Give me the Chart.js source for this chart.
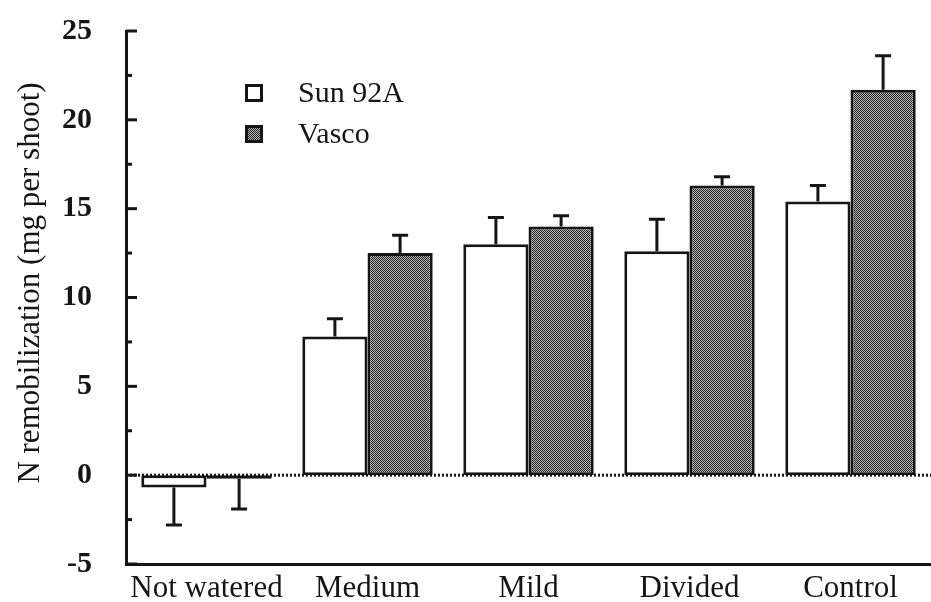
<!DOCTYPE html>
<html>
<head>
<meta charset="utf-8">
<title>N remobilization</title>
<script src="https://cdn.jsdelivr.net/npm/chart.js@4.4.1/dist/chart.umd.min.js"></script>
<style>
  html, body { margin: 0; padding: 0; background: #fff; overflow: hidden; }
  #wrap { position: relative; width: 931px; height: 602px; }
</style>
</head>
<body>
<div id="wrap"><canvas id="chart"></canvas></div>
<script>
// treatments and the two cultivars (mean + error)
const treatments = ['Not watered', 'Medium', 'Mild', 'Divided', 'Control'];
const sunValues = [-0.7, 7.8, 13.0, 12.6, 15.4];
const sunErrors = [2.1, 1.0, 1.5, 1.8, 0.9];
const vascoValues = [-0.2, 12.5, 14.0, 16.3, 21.7];
const vascoErrors = [1.7, 1.0, 0.6, 0.5, 1.9];
const yTicks = [-5, 0, 5, 10, 15, 20, 25];

const SERIF = '"Liberation Serif", "Times New Roman", serif';
const INK = '#151515';

// fine grey stipple for the Vasco bars
function stipple() {
    const c = document.createElement('canvas');
    c.width = 2; c.height = 2;
    const g = c.getContext('2d');
    g.fillStyle = '#bdbdbd';
    g.fillRect(0, 0, 2, 2);
    g.fillStyle = '#1c1c1c';
    g.fillRect(0, 0, 1, 1);
    g.fillRect(1, 1, 1, 1);
    return g.createPattern(c, 'repeat');
}

// dotted baseline at zero, under the bars
const zeroLine = {
    id: 'zeroLine',
    beforeDatasetsDraw(chart) {
        const { ctx, chartArea, scales: { y } } = chart;
        const py = y.getPixelForValue(0);
        ctx.save();
        ctx.strokeStyle = INK;
        ctx.lineWidth = 3;
        ctx.setLineDash([2, 2]);
        ctx.beginPath();
        ctx.moveTo(chartArea.left, py);
        ctx.lineTo(chartArea.right, py);
        ctx.stroke();
        ctx.restore();
    }
};

// one-sided error bars (up for positive means, down for negative)
const errorBars = {
    id: 'errorBars',
    afterDatasetsDraw(chart) {
        const { ctx, scales: { y } } = chart;
        ctx.save();
        ctx.strokeStyle = INK;
        ctx.lineWidth = 3;
        chart.data.datasets.forEach((ds, i) => {
            chart.getDatasetMeta(i).data.forEach((bar, j) => {
                const v = ds.data[j];
                const e = ds.errors[j];
                const end = y.getPixelForValue(v < 0 ? v - e : v + e);
                ctx.beginPath();
                ctx.moveTo(bar.x, bar.y);
                ctx.lineTo(bar.x, end);
                ctx.moveTo(bar.x - 8, end);
                ctx.lineTo(bar.x + 8, end);
                ctx.stroke();
            });
        });
        ctx.restore();
    }
};

// tick marks pointing into the plot, minor ones halfway
const innerTicks = {
    id: 'innerTicks',
    afterDraw(chart) {
        const { ctx, chartArea, scales: { y } } = chart;
        const step = yTicks[1] - yTicks[0];
        ctx.save();
        ctx.strokeStyle = INK;
        ctx.lineWidth = 3;
        for (let v = y.min; v <= y.max; v += step / 2) {
            const py = y.getPixelForValue(v);
            const len = (v % step === 0) ? 11 : 6;
            ctx.beginPath();
            ctx.moveTo(chartArea.left, py);
            ctx.lineTo(chartArea.left + len, py);
            ctx.stroke();
        }
        ctx.restore();
    }
};

// axis title and the little legend inside the plot
const labels = {
    id: 'labels',
    afterDraw(chart) {
        const { ctx } = chart;
        ctx.save();
        ctx.fillStyle = INK;
        ctx.font = '31px ' + SERIF;
        ctx.textAlign = 'center';
        ctx.textBaseline = 'middle';
        ctx.translate(31, 283);
        ctx.rotate(-Math.PI / 2);
        ctx.fillText('N remobilization (mg per shoot)', 0, 0);
        ctx.restore();

        ctx.save();
        ctx.font = '30px ' + SERIF;
        ctx.textBaseline = 'alphabetic';
        chart.data.datasets.forEach((ds, i) => {
            const top = 84 + i * 41;
            ctx.fillStyle = ds.backgroundColor;
            ctx.fillRect(245, top, 18, 18);
            ctx.strokeStyle = INK;
            ctx.lineWidth = 3;
            ctx.strokeRect(246.5, top + 1.5, 15, 15);
            ctx.fillStyle = INK;
            ctx.fillText(ds.label, 298, top + 18);
        });
        ctx.restore();
    }
};

new Chart(document.getElementById('chart'), {
    type: 'bar',
    data: {
        labels: treatments,
        datasets: [
            {
                label: 'Sun 92A',
                data: sunValues,
                errors: sunErrors,
                backgroundColor: '#ffffff',
                borderColor: INK,
                borderWidth: 3,
                borderSkipped: false
            },
            {
                label: 'Vasco',
                data: vascoValues,
                errors: vascoErrors,
                backgroundColor: stipple(),
                borderColor: INK,
                borderWidth: 3,
                borderSkipped: false
            }
        ]
    },
    options: {
        responsive: true,
        maintainAspectRatio: false,
        animation: false,
        layout: { padding: { top: 31, left: 0, right: 0, bottom: 0 } },
        datasets: { bar: { categoryPercentage: 0.81, barPercentage: 1.0 } },
        plugins: {
            legend: { display: false },
            tooltip: { enabled: false }
        },
        scales: {
            x: {
                grid: { display: false, drawTicks: false },
                border: { display: true, color: INK, width: 3 },
                ticks: {
                    color: INK,
                    padding: 6,
                    maxRotation: 0,
                    font: { family: SERIF, size: 31 }
                },
                afterFit(scale) {
                    scale.height = 38;
                    scale.paddingLeft = 0;
                    scale.paddingRight = 0;
                }
            },
            y: {
                min: yTicks[0],
                max: yTicks[yTicks.length - 1],
                grid: { display: false, drawTicks: false },
                border: { display: true, color: INK, width: 3 },
                ticks: {
                    stepSize: yTicks[1] - yTicks[0],
                    color: INK,
                    padding: 34,
                    font: { family: SERIF, size: 30, weight: 'bold' }
                },
                afterFit(scale) {
                    scale.width = 126;
                    scale.paddingTop = 0;
                    scale.paddingBottom = 0;
                }
            }
        }
    },
    plugins: [zeroLine, errorBars, innerTicks, labels]
});
</script>
</body>
</html>
